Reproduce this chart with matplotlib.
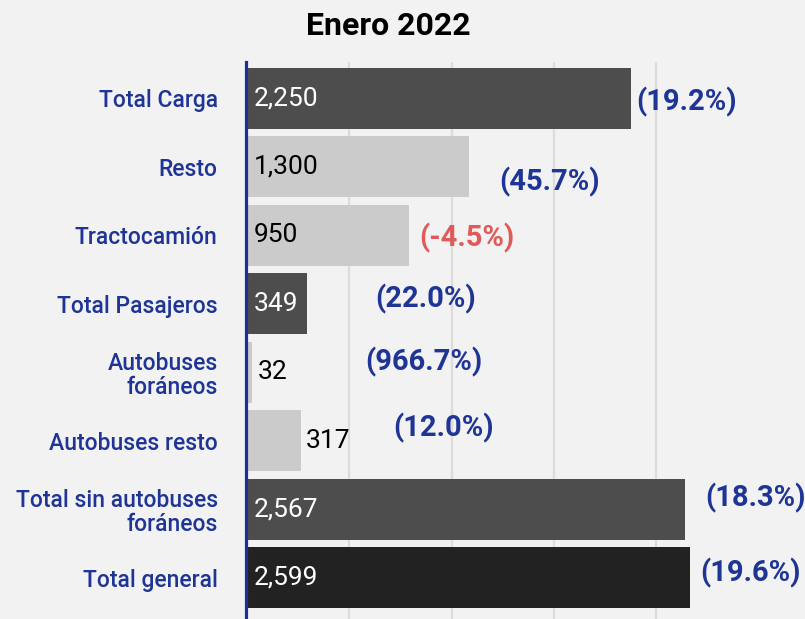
import matplotlib.pyplot as plt

plt.rcParams['font.family'] = ['Roboto', 'DejaVu Sans']

categories = ["Total Carga", "Resto", "Tractocamión", "Total Pasajeros",
              "Autobuses\nforáneos", "Autobuses resto",
              "Total sin autobuses\nforáneos", "Total general"]
values = [2250, 1300, 950, 349, 32, 317, 2567, 2599]
changes = ["(19.2%)", "(45.7%)", "(-4.5%)", "(22.0%)", "(966.7%)", "(12.0%)",
           "(18.3%)", "(19.6%)"]

# styling per bar
bar_colors = ["#4d4d4d", "#cbcbcb", "#cbcbcb", "#4d4d4d", "#cbcbcb", "#cbcbcb",
              "#4d4d4d", "#222222"]
label_inside = [True, True, True, True, False, False, True, True]
pct_colors = ["#1f3596"] * 8
pct_colors[2] = "#e05a5a"
# where the percentage labels sit (x in data units, y shift in rows)
pct_x = [2285, 1478, 1010, 751, 692, 856, 2686, 2657]
pct_dy = [0.05, 0.22, 0.04, -0.07, -0.15, -0.19, -0.16, -0.07]

blue = "#1f3596"

fig = plt.figure(figsize=(8.05, 6.19), dpi=100)
fig.patch.set_facecolor("#f2f2f2")
ax = fig.add_axes([245.5 / 805, 0, (805 - 245.5) / 805, (619 - 62) / 619])
ax.set_facecolor("#f2f2f2")

y = list(range(len(categories)))
ax.barh(y, values, height=0.89, color=bar_colors, zorder=2)

ax.set_xlim(-9, 3272)
ax.set_ylim(7.6, -0.53)
ax.set_xticks([600, 1200, 1800, 2400])
ax.xaxis.grid(True, color="#dcdcdc", linewidth=1.6, zorder=0)
ax.set_axisbelow(True)
ax.tick_params(axis="x", length=0, labelbottom=False)
ax.tick_params(axis="y", length=0, pad=20)
ax.set_yticks(y)
ax.set_yticklabels(categories, color=blue, fontsize=16.5, fontweight=500,
                   linespacing=1.05)
for lbl in ax.get_yticklabels():
    lbl.set_horizontalalignment("right")
    lbl.set_multialignment("right")

for s in ["top", "right", "bottom"]:
    ax.spines[s].set_visible(False)
ax.spines["left"].set_color("#1a2f99")
ax.spines["left"].set_linewidth(2.3)
ax.spines["left"].set_zorder(3)

px = 0.1705  # pixels per unit
for i, v in enumerate(values):
    if label_inside[i]:
        x = 7 / px
        col = "white" if bar_colors[i] != "#cbcbcb" else "black"
    else:
        x = v + 5 / px
        col = "black"
    ax.text(x, i, f"{v:,}", va="center", ha="left", fontsize=19, color=col,
            zorder=4)
    ax.text(pct_x[i], i + pct_dy[i], changes[i], va="center", ha="left",
            fontsize=21, fontweight="bold", color=pct_colors[i], zorder=4)

fig.text(388 / 805, 1 - 26 / 619, "Enero 2022", ha="center", va="center",
         fontsize=23, fontweight="bold", color="black")

fig.savefig("out.png", dpi=100, facecolor=fig.get_facecolor())
